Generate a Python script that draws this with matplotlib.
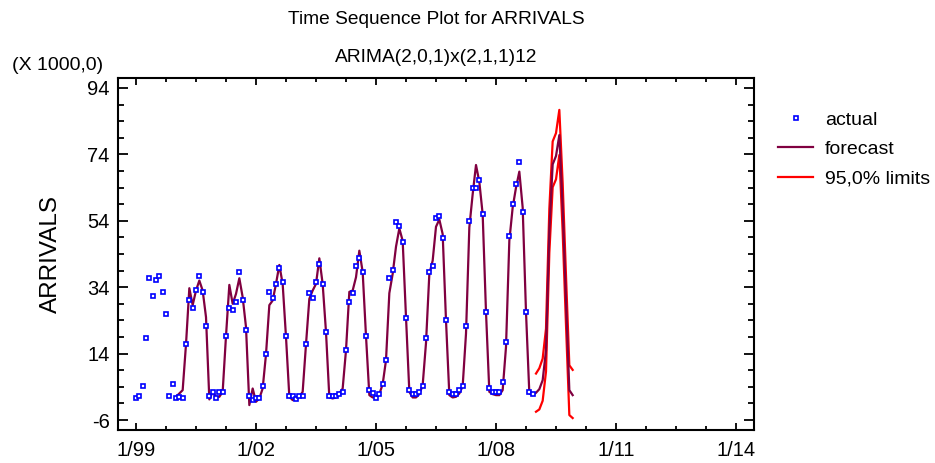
import matplotlib
matplotlib.use("Agg")
import matplotlib.pyplot as plt
import numpy as np

plt.rcParams['font.family'] = ['Liberation Sans', 'DejaVu Sans']

# monthly ARRIVALS (x 1000), Jan 1999 .. Dec 2008
actual = [
    0.6, 1.2, 4.2, 18.6, 36.7, 31.3, 36.2, 37.4, 32.5, 25.9, 1.2, 4.8,
    0.6, 0.9, 0.6, 16.8, 30.0, 27.7, 33.2, 37.4, 32.6, 22.3, 1.2, 2.4,
    0.6, 2.4, 2.4, 19.3, 27.8, 27.1, 29.5, 38.6, 30.1, 21.1, 1.2, 0.0,
    0.6, 0.6, 4.2, 13.8, 32.6, 30.7, 34.9, 39.9, 35.5, 19.2, 1.2, 1.2,
    0.4, 1.2, 1.2, 16.8, 32.4, 30.7, 35.5, 41.0, 34.9, 20.5, 1.2, 1.2,
    1.2, 1.8, 2.4, 15.1, 29.5, 32.2, 40.4, 42.7, 38.6, 19.3, 3.0, 2.0,
    0.5, 1.8, 4.8, 12.1, 36.7, 39.2, 53.5, 52.4, 47.5, 24.7, 3.0, 1.8,
    1.8, 2.4, 4.2, 18.7, 38.5, 40.4, 54.8, 55.4, 48.7, 24.1, 2.4, 1.8,
    1.8, 3.0, 4.2, 22.3, 54.0, 63.8, 63.8, 66.2, 56.0, 26.5, 3.5, 2.3,
    2.3, 2.3, 5.4, 17.4, 49.4, 59.0, 65.0, 71.6, 56.6, 26.5, 2.3, 1.7,
]

# one-step forecasts Jan 2000 .. Dec 2008, then forecasts for 2009
forecast = [
    1.0, 2.0, 3.0, 16.8, 33.7, 28.6, 33.0, 36.0, 33.0, 25.0, 0.2, 2.5,
    1.0, 1.0, 2.5, 19.3, 34.7, 29.0, 32.0, 36.7, 31.0, 22.0, -1.5, 3.5,
    -0.5, 0.5, 3.5, 13.8, 28.6, 30.0, 35.0, 40.7, 35.0, 19.0, 1.0, 0.0,
    0.5, 1.0, 2.5, 16.8, 30.5, 33.0, 35.0, 42.7, 35.0, 20.5, 0.8, 0.5,
    0.8, 2.0, 3.5, 15.0, 32.6, 33.0, 37.0, 45.0, 38.6, 19.3, 1.5, 0.8,
    0.8, 1.8, 4.8, 12.0, 32.2, 38.0, 46.2, 51.7, 48.0, 25.0, 2.5, 0.8,
    0.8, 1.8, 4.5, 17.2, 38.0, 42.0, 52.2, 54.4, 50.0, 24.0, 1.5, 0.8,
    1.0, 2.0, 4.2, 20.0, 52.0, 62.0, 70.8, 65.7, 56.0, 26.5, 2.5, 1.8,
    1.5, 1.5, 3.0, 16.0, 48.0, 58.0, 64.0, 68.8, 58.0, 26.5, 2.0, 1.5,
    2.2, 3.3, 6.0, 15.0, 51.0, 71.0, 73.5, 79.8, 58.0, 30.0, 3.0, 1.5,
]
fc_start = 12  # month index of first forecast (1/00)

# 95% limits for the 2009 forecasts
upper = [8.0, 9.6, 12.5, 21.5, 57.6, 77.9, 80.4, 87.4, 65.3, 37.4, 10.5, 9.1]
lower = [-3.5, -2.8, -0.2, 8.6, 44.4, 64.1, 66.5, 73.8, 50.7, 22.6, -4.5, -5.4]
lim_start = 120

xtick_pos = [0, 36, 72, 108, 144, 180]
xtick_labels = ["1/99", "1/02", "1/05", "1/08", "1/11", "1/14"]
ytick_pos = [94, 74, 54, 34, 14, -6]
ytick_labels = ["94", "74", "54", "34", "14", "-6"]

t_act = np.arange(len(actual))
t_fc = np.arange(fc_start, fc_start + len(forecast))
t_lim = np.arange(lim_start, lim_start + len(upper))

fig = plt.figure(figsize=(9.35, 4.63), dpi=100)
ax = fig.add_axes([118 / 935, 1 - 430 / 463, (754 - 118) / 935, (430 - 78) / 463])

ax.plot(t_lim, upper, color="#ff0000", lw=1.6, label="95,0% limits", zorder=2)
ax.plot(t_lim, lower, color="#ff0000", lw=1.6, zorder=2)
ax.plot(t_fc, forecast, color="#800040", lw=1.6, label="forecast", zorder=3)
ax.plot(t_act, actual, "s", ls="none", color="#0000ff", mfc="white",
        ms=3.4, mew=1.2, label="actual", zorder=4)

ax.set_xlim(-5.4, 185.4)
ax.set_ylim(-9, 97)
ax.set_xticks(xtick_pos)
ax.set_xticklabels(xtick_labels)
ax.set_xticks(np.arange(0, 181, 9), minor=True)
ax.set_yticks(ytick_pos)
ax.set_yticklabels(ytick_labels)
ax.set_yticks(np.arange(-6, 95, 5), minor=True)

for s in ax.spines.values():
    s.set_linewidth(1.5)
ax.tick_params(axis="both", which="both", direction="in", top=True, right=True,
               width=1.3, labelsize=14.5)
ax.tick_params(axis="y", which="major", length=7.5, pad=6)
ax.tick_params(axis="y", which="minor", length=4.5)
ax.tick_params(axis="x", which="major", length=5, pad=8)
ax.tick_params(axis="x", which="minor", length=3)

ax.set_ylabel("ARRIVALS", fontsize=17.5, labelpad=18)

fig.text(436 / 935, 1 - 20 / 463, "Time Sequence Plot for ARRIVALS",
         ha="center", va="center", fontsize=13.8)
fig.text(436 / 935, 1 - 57 / 463, "ARIMA(2,0,1)x(2,1,1)12",
         ha="center", va="center", fontsize=13.8)
fig.text(12 / 935, 1 - 65 / 463, "(X 1000,0)", ha="left", va="center", fontsize=14)

h, l = ax.get_legend_handles_labels()
order = [2, 1, 0]
ax.legend([h[i] for i in order], [l[i] for i in order],
          loc="upper left", bbox_to_anchor=(778 / 935, 1 - 111 / 463),
          bbox_transform=fig.transFigure, frameon=False, fontsize=14,
          handlelength=1.8, handletextpad=0.6, labelspacing=0.62,
          borderaxespad=0, borderpad=0)

fig.savefig("out.png", dpi=100)
